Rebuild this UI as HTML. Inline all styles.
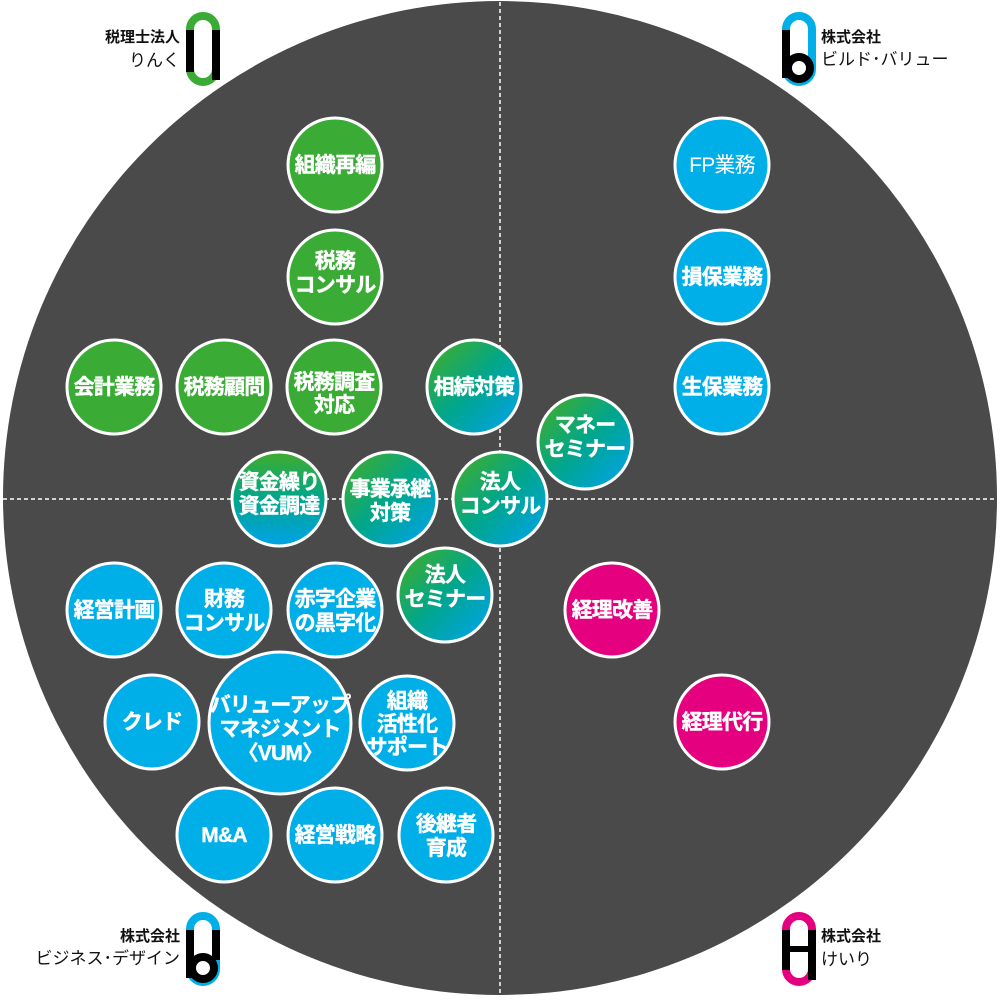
<!DOCTYPE html>
<html><head><meta charset="utf-8"><style>
html,body{margin:0;padding:0;background:#fff;}
svg{display:block;}
text{font-family:"Liberation Sans","Noto Sans CJK JP",sans-serif;}
.t{fill:#fff;font-weight:bold;font-size:21px;text-anchor:middle;letter-spacing:-0.8px;stroke:#fff;stroke-width:0.4px;}
.l{fill:#111;font-size:15px;font-weight:bold;}
</style></head><body>
<svg width="1000" height="1000" viewBox="0 0 1000 1000" xmlns="http://www.w3.org/2000/svg">
<defs>
<linearGradient id="gd" x1="0" y1="0" x2="1" y2="1"><stop offset="0.1" stop-color="#3aac35"/><stop offset="0.5" stop-color="#00a68c"/><stop offset="0.9" stop-color="#00a3e0"/></linearGradient>
<linearGradient id="gv" x1="0" y1="0" x2="0" y2="1"><stop offset="0.05" stop-color="#3aac35"/><stop offset="0.5" stop-color="#00a68c"/><stop offset="0.95" stop-color="#00a3e0"/></linearGradient>
</defs>
<circle cx="500" cy="498" r="497" fill="#4a4a4a"/>
<line x1="500" y1="2" x2="500" y2="995" stroke="#fff" stroke-width="1.5" stroke-dasharray="4,3"/>
<line x1="3" y1="499" x2="997" y2="499" stroke="#fff" stroke-width="1.5" stroke-dasharray="4,3"/>
<g stroke="#fff" stroke-width="3">
<circle cx="335" cy="165" r="47" fill="#3aac35"/>
<circle cx="335" cy="277" r="47" fill="#3aac35"/>
<circle cx="114" cy="387" r="47" fill="#3aac35"/>
<circle cx="224" cy="387" r="47" fill="#3aac35"/>
<circle cx="334" cy="387" r="47" fill="#3aac35"/>
<circle cx="474" cy="387" r="47" fill="url(#gd)"/>
<circle cx="585" cy="442" r="47" fill="url(#gd)"/>
<circle cx="279" cy="499" r="47" fill="url(#gv)"/>
<circle cx="390" cy="499" r="47" fill="url(#gd)"/>
<circle cx="500" cy="499" r="47" fill="url(#gd)"/>
<circle cx="445" cy="595" r="47" fill="url(#gd)"/>
<circle cx="114" cy="610" r="47" fill="#00aee8"/>
<circle cx="224" cy="610" r="47" fill="#00aee8"/>
<circle cx="335" cy="610" r="47" fill="#00aee8"/>
<circle cx="612" cy="610" r="47" fill="#e4007f"/>
<circle cx="152" cy="722" r="47" fill="#00aee8"/>
<circle cx="280" cy="723" r="71" fill="#00aee8"/>
<circle cx="407" cy="723" r="47" fill="#00aee8"/>
<circle cx="722" cy="722" r="47" fill="#e4007f"/>
<circle cx="224" cy="835" r="47" fill="#00aee8"/>
<circle cx="335" cy="835" r="47" fill="#00aee8"/>
<circle cx="446" cy="835" r="47" fill="#00aee8"/>
<circle cx="722" cy="165" r="47" fill="#00aee8"/>
<circle cx="722" cy="277" r="47" fill="#00aee8"/>
<circle cx="722" cy="387" r="47" fill="#00aee8"/>
</g>
<g class="t">
<text x="335" y="172">組織再編</text>
<text x="335" y="268">税務</text><text x="335" y="292">コンサル</text>
<text x="114" y="394">会計業務</text>
<text x="224" y="394">税務顧問</text>
<text x="334" y="389">税務調査</text><text x="334" y="412">対応</text>
<text x="474" y="394">相続対策</text>
<text x="585" y="432">マネー</text><text x="585" y="456">セミナー</text>
<text x="279" y="489">資金繰り</text><text x="279" y="513">資金調達</text>
<text x="390" y="496">事業承継</text><text x="390" y="520">対策</text>
<text x="500" y="489">法人</text><text x="500" y="513">コンサル</text>
<text x="445" y="582">法人</text><text x="445" y="606">セミナー</text>
<text x="114" y="617">経営計画</text>
<text x="224" y="606">財務</text><text x="224" y="630">コンサル</text>
<text x="335" y="606">赤字企業</text><text x="335" y="630">の黒字化</text>
<text x="612" y="617">経理改善</text>
<text x="152" y="729">クレド</text>
<text x="280" y="712">バリューアップ</text><text x="280" y="736">マネジメント</text><text x="280" y="760">〈VUM〉</text>
<text x="407" y="708">組織</text><text x="407" y="731">活性化</text><text x="407" y="754">サポート</text>
<text x="722" y="729">経理代行</text>
<text x="224" y="842">M&amp;A</text>
<text x="335" y="842">経営戦略</text>
<text x="446" y="831">後継者</text><text x="446" y="855">育成</text>
<text x="722" y="172" style="font-weight:normal;stroke-width:0">FP業務</text>
<text x="722" y="284">損保業務</text>
<text x="722" y="394">生保業務</text>
</g>
<g>
<rect x="190" y="16" width="26" height="66" rx="13" fill="none" stroke="#3aac35" stroke-width="8"/>
<rect x="186" y="30" width="8" height="42" fill="#000"/>
<rect x="212" y="30" width="8" height="50" fill="#000"/>
<text class="l" x="180" y="42" text-anchor="end">税理士法人</text>
<text class="l" x="180" y="66" text-anchor="end" style="font-weight:normal;font-size:17px">りんく</text>
</g>
<g>
<rect x="786" y="16" width="26" height="66" rx="13" fill="none" stroke="#00aee8" stroke-width="8"/>
<rect x="782" y="30" width="8" height="48" fill="#000"/>
<circle cx="799" cy="68" r="11" fill="none" stroke="#000" stroke-width="8"/>
<text class="l" x="821" y="42">株式会社</text>
<text class="l" x="821" y="65" style="font-weight:normal;font-size:17px">ビルド･バリュー</text>
</g>
<g>
<rect x="190" y="916" width="26" height="66" rx="13" fill="none" stroke="#00aee8" stroke-width="8"/>
<rect x="186" y="930" width="8" height="48" fill="#000"/>
<rect x="212" y="930" width="8" height="30" fill="#000"/>
<circle cx="203" cy="968" r="11" fill="none" stroke="#000" stroke-width="8"/>
<text class="l" x="180" y="941" text-anchor="end">株式会社</text>
<text class="l" x="180" y="964" text-anchor="end" style="font-weight:normal;font-size:17px">ビジネス･デザイン</text>
</g>
<g>
<rect x="786" y="916" width="26" height="66" rx="13" fill="none" stroke="#e4007f" stroke-width="8"/>
<rect x="782" y="930" width="8" height="40" fill="#000"/>
<rect x="808" y="930" width="8" height="50" fill="#000"/>
<rect x="786" y="946" width="26" height="6" fill="#000"/>
<text class="l" x="821" y="941">株式会社</text>
<text class="l" x="821" y="965" style="font-weight:normal;font-size:17px">けいり</text>
</g>
</svg>
</body></html>
